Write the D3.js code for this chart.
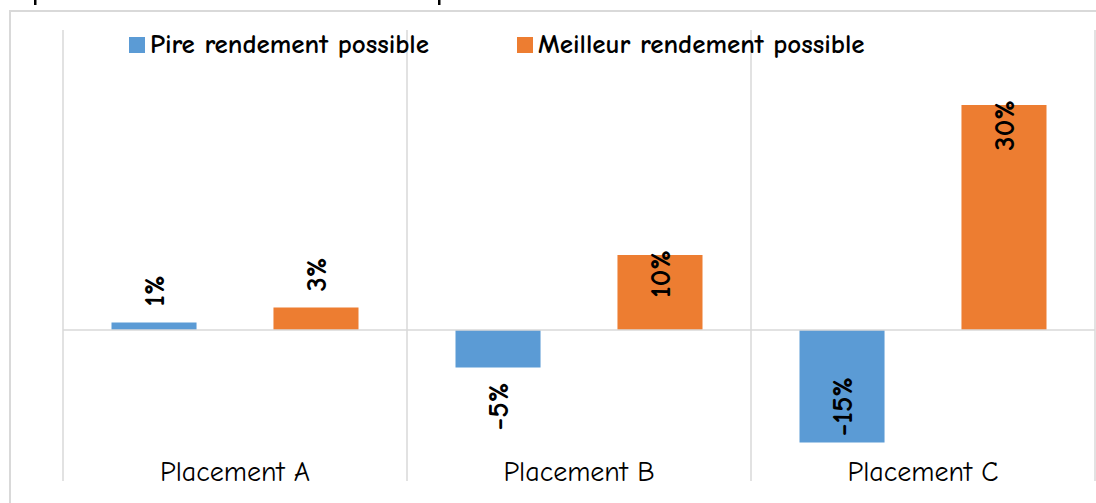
<!DOCTYPE html>
<html lang="fr">
<head>
    <meta charset="UTF-8">
    <title>Rendement des placements</title>
    <script src="https://d3js.org/d3.v7.min.js"></script>
    <style>
        body {
            margin: 0;
            background: white;
        }
        svg text {
            font-family: "Comic Sans MS", "Comic Neue", "Lato", sans-serif;
            fill: black;
        }
        .grid line {
            stroke: #d9d9d9;
            stroke-width: 1.5;
        }
        .val-label {
            font-weight: 900;
            font-size: 29px;
        }
        .cat-label {
            font-size: 28px;
        }
        .legend text {
            font-weight: bold;
            font-size: 27px;
        }
    </style>
</head>
<body>
    <svg id="chart"></svg>

    <script>
        // données
        const categories = ["Placement A", "Placement B", "Placement C"];
        const seriesNames = ["Pire rendement possible", "Meilleur rendement possible"];
        const worst = [0.01, -0.05, -0.15];
        const best = [0.03, 0.10, 0.30];
        const colors = ["#5b9bd5", "#ed7d31"];

        const W = 1096, H = 503;
        const plot = { left: 63, right: 1095, top: 30, bottom: 480 };

        const svg = d3.select("#chart")
            .attr("width", W)
            .attr("height", H);

        // cadre extérieur
        svg.append("rect")
            .attr("x", 10).attr("y", 11)
            .attr("width", 1100).attr("height", 500)
            .attr("fill", "none")
            .attr("stroke", "#d9d9d9")
            .attr("stroke-width", 2);

        // bouts de texte coupés en haut de l'image
        [35, 439].forEach(px => {
            svg.append("rect")
                .attr("x", px - 1).attr("y", 0)
                .attr("width", 2.5).attr("height", 5)
                .attr("fill", "black");
        });

        const data = categories.map((c, i) => ({
            cat: c,
            values: [
                { key: seriesNames[0], value: worst[i], s: 0 },
                { key: seriesNames[1], value: best[i], s: 1 }
            ]
        }));

        const x0 = d3.scaleBand()
            .domain(categories)
            .range([plot.left, plot.right])
            .padding(0);

        const x1 = d3.scaleBand()
            .domain(seriesNames)
            .range([48.5, x0.bandwidth() - 48.5])
            .paddingInner(0.475);

        const y = d3.scaleLinear()
            .domain([-0.2, 0.4])
            .range([plot.bottom, plot.top]);

        // quadrillage vertical (séparateurs de catégories)
        const grid = svg.append("g").attr("class", "grid");
        const bounds = categories.map(c => x0(c)).concat([plot.right]);
        grid.selectAll(".v")
            .data(bounds)
            .enter().append("line")
            .attr("class", "v")
            .attr("x1", d => d).attr("x2", d => d)
            .attr("y1", plot.top).attr("y2", plot.bottom + 1);

        // barres
        const groups = svg.append("g").selectAll(".cat")
            .data(data)
            .enter().append("g")
            .attr("class", "cat")
            .attr("transform", d => `translate(${x0(d.cat)},0)`);

        groups.selectAll("rect")
            .data(d => d.values)
            .enter().append("rect")
            .attr("x", d => x1(d.key))
            .attr("width", x1.bandwidth())
            .attr("y", d => y(Math.max(0, d.value)))
            .attr("height", d => Math.abs(y(d.value) - y(0)))
            .attr("fill", d => colors[d.s]);

        // axe zéro
        svg.append("g").attr("class", "grid")
            .append("line")
            .attr("x1", plot.left).attr("x2", plot.right)
            .attr("y1", y(0)).attr("y2", y(0));

        // étiquettes de valeurs (verticales)
        const fmt = d3.format(".0%");
        groups.selectAll(".val-label")
            .data(d => d.values)
            .enter().append("text")
            .attr("class", "val-label")
            .text(d => fmt(d.value))
            .each(function (d) {
                const t = d3.select(this);
                const len = this.getComputedTextLength();
                const cx = x1(d.key) + x1.bandwidth() / 2;
                const barLen = Math.abs(y(d.value) - y(0));
                const inside = barLen > len + 10;
                let py, anchor;
                if (d.value >= 0) {
                    const top = y(d.value);
                    if (inside) { py = top - 5; anchor = "end"; }
                    else { py = top - 16; anchor = "start"; }
                } else {
                    const bot = y(d.value);
                    if (inside) { py = bot - 6; anchor = "start"; }
                    else { py = bot + 15; anchor = "end"; }
                }
                t.attr("text-anchor", anchor)
                    .attr("dy", "0.35em")
                    .attr("transform", `translate(${cx},${py}) rotate(-90)`);
            });

        // noms de catégories
        svg.append("g").selectAll(".cat-label")
            .data(categories)
            .enter().append("text")
            .attr("class", "cat-label")
            .attr("x", d => x0(d) + x0.bandwidth() / 2)
            .attr("y", 481)
            .attr("text-anchor", "middle")
            .text(d => d);

        // légende
        const legendX = [129, 517];
        const legend = svg.append("g").attr("class", "legend")
            .selectAll("g")
            .data(seriesNames)
            .enter().append("g")
            .attr("transform", (d, i) => `translate(${legendX[i]},37)`);

        legend.append("rect")
            .attr("width", 16).attr("height", 16)
            .attr("fill", (d, i) => colors[i]);

        legend.append("text")
            .attr("x", 21)
            .attr("y", 16)
            .text(d => d);
    </script>
</body>
</html>
